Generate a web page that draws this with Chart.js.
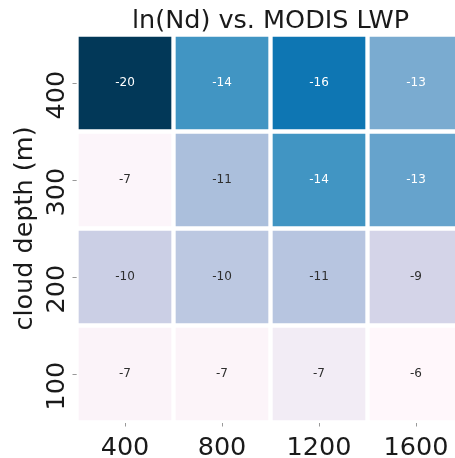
<!DOCTYPE html>
<html><head><meta charset="utf-8">
<script src="https://cdn.jsdelivr.net/npm/chart.js@4.4.1/dist/chart.umd.min.js"></script>
<style>html,body{margin:0;padding:0;overflow:hidden;background:#fff;width:455px;height:458px}
canvas{display:block}</style></head>
<body><canvas id="c" width="470" height="458"></canvas>
<script>
const lwpLabels = ['400', '800', '1200', '1600'];
const depthLabels = ['100', '200', '300', '400'];
const lnNd100 = [-6.7, -6.6, -7.45, -6.3];
const lnNd200 = [-9.9, -10.49, -10.7, -9.45];
const lnNd300 = [-6.55, -11.2, -14.49, -13.49];
const lnNd400 = [-19.9, -14.49, -16.2, -12.9];
const rows = [lnNd100, lnNd200, lnNd300, lnNd400];

const all = rows.flat();
const vmin = Math.min(...all), vmax = Math.max(...all);
const PuBu = ['#fff7fb','#ece7f2','#d0d1e6','#a6bddb','#74a9cf','#3690c0','#0570b0','#045a8d','#023858'];
function hexToRgb(h){ return [1,3,5].map(i=>parseInt(h.substr(i,2),16)); }
function cmap(v){
  let t=(v-vmin)/(vmax-vmin); t=Math.min(1,Math.max(0,t));
  const p=(1-t)*(PuBu.length-1);
  const i=Math.min(Math.floor(p), PuBu.length-2); const f=p-i;
  const a=hexToRgb(PuBu[i]), b=hexToRgb(PuBu[i+1]);
  return [0,1,2].map(k=>Math.round(a[k]+(b[k]-a[k])*f));
}
function rgbStr(c){ return 'rgb('+c.join(',')+')'; }
function lum(c){
  const l=c.map(x=>{x/=255; return x<=0.03928? x/12.92 : Math.pow((x+0.055)/1.055,2.4);});
  return 0.2126*l[0]+0.7152*l[1]+0.0722*l[2];
}

Chart.defaults.font.family = '"DejaVu Sans"';

const annot = {
  id:'annot',
  afterDatasetsDraw(chart){
    const ctx=chart.ctx; ctx.save();
    ctx.font='12px "DejaVu Sans"'; ctx.textAlign='center'; ctx.textBaseline='middle';
    chart.data.datasets.forEach((ds,di)=>{
      const meta=chart.getDatasetMeta(di);
      meta.data.forEach((el,j)=>{
        const v=rows[di][j]; const c=cmap(v);
        ctx.fillStyle = lum(c)>0.408 ? '#2e2e2e' : '#ffffff';
        ctx.fillText(String(Math.round(v)), el.x, (el.y+el.base)/2);
      });
    });
    ctx.restore();
  }
};

new Chart(document.getElementById('c'), {
  type:'bar',
  data:{
    labels: lwpLabels,
    datasets: rows.map((r,i)=>({
      label: depthLabels[i],
      data: r.map(()=>1),
      backgroundColor: r.map(v=>rgbStr(cmap(v))),
      borderColor:'#ffffff', borderWidth:2.5, borderSkipped:false,
      barPercentage:1, categoryPercentage:1
    }))
  },
  options:{
    responsive:false, animation:false,
    layout:{padding:{left:0, right:5.5, top:0, bottom:0}},
    plugins:{
      legend:{display:false}, tooltip:{enabled:false},
      title:{display:true, fullSize:false, text:'ln(Nd) vs. MODIS LWP', color:'#1a1a1a',
        font:{size:25.5, weight:'normal', lineHeight:1}, padding:{top:8.5, bottom:0.5}}
    },
    scales:{
      x:{ type:'category', stacked:true, offset:true,
        grid:{display:true, drawOnChartArea:false, drawTicks:true, tickLength:4, offset:false, color:'#999'},
        border:{display:false},
        ticks:{font:{size:25.5}, color:'#1a1a1a', padding:7, maxRotation:0},
        afterFit(s){ s.height=35.5; } },
      y:{ type:'linear', stacked:true, min:0, max:4,
        grid:{display:true, drawOnChartArea:false, drawTicks:true, tickLength:4, color:'#999'},
        border:{display:false},
        afterBuildTicks(s){ s.ticks = depthLabels.map((_,i)=>({value:i+0.5})); },
        ticks:{font:{size:25.5}, color:'#1a1a1a', minRotation:90, maxRotation:90, crossAlign:'center', padding:-21,
          callback:(v)=>depthLabels[Math.floor(v)] + '   '},
        title:{display:true, text:'cloud depth (m)', color:'#1a1a1a', font:{size:25.5}, padding:{top:10, bottom:0}},
        afterFit(s){ s.width=76.5; } }
    }
  },
  plugins:[annot]
});
</script>
</body></html>
